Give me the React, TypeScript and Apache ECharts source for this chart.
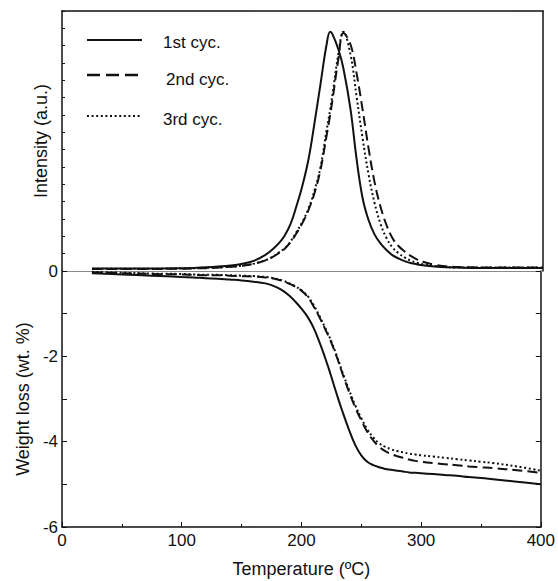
import React, { useEffect, useRef } from "react";
import * as echarts from "echarts";

const temps = [25, 50, 75, 100, 110, 120, 130, 140, 150, 160, 170, 175, 180, 185, 190, 195, 200, 205, 210, 215, 220, 223, 225, 230, 234, 240, 245, 250, 255, 260, 265, 270, 275, 280, 285, 290, 295, 300, 310, 320, 330, 340, 350, 360, 380, 400];

const intensity1 = [1.0, 1.0, 1.0, 1.1, 1.2, 1.4, 1.7, 2.1, 2.8, 4.0, 6.5, 8.3, 10.5, 13.5, 18, 25, 33, 43, 57, 72, 87, 92, 91, 85, 78, 62, 43, 28, 19.5, 14, 10.5, 8, 6, 4.8, 3.8, 3.1, 2.6, 2.2, 1.7, 1.4, 1.3, 1.2, 1.2, 1.2, 1.2, 1.2];
const intensity2 = [0.8, 0.8, 0.8, 0.9, 1.0, 1.1, 1.3, 1.6, 2.0, 2.8, 4.2, 5.3, 6.8, 8.5, 11, 14.5, 18.5, 23.5, 30, 39, 52, 60, 66, 82, 91.5, 87, 76, 62, 47, 34, 24.5, 17.5, 12.5, 9.5, 7.5, 5.8, 4.5, 3.6, 2.4, 1.8, 1.5, 1.4, 1.3, 1.3, 1.3, 1.3];
const intensity3 = [0.9, 0.9, 0.9, 1.0, 1.1, 1.2, 1.4, 1.7, 2.1, 2.9, 4.3, 5.4, 7.0, 8.7, 11.3, 15, 19, 24, 31, 40, 54, 62, 68, 84, 92, 83, 67, 51, 37, 26, 18, 12.5, 9, 6.8, 5.2, 4.0, 3.2, 2.6, 1.9, 1.5, 1.3, 1.3, 1.3, 1.3, 1.3, 1.3];

const weight1 = [-0.05, -0.08, -0.11, -0.14, -0.15, -0.17, -0.18, -0.2, -0.22, -0.25, -0.29, -0.33, -0.39, -0.47, -0.58, -0.72, -0.88, -1.07, -1.32, -1.66, -2.05, -2.3, -2.48, -2.93, -3.27, -3.74, -4.08, -4.32, -4.47, -4.55, -4.6, -4.64, -4.66, -4.68, -4.7, -4.72, -4.73, -4.74, -4.76, -4.78, -4.8, -4.83, -4.85, -4.88, -4.94, -5.0];
const weight2 = [-0.03, -0.05, -0.07, -0.08, -0.09, -0.1, -0.1, -0.11, -0.12, -0.13, -0.15, -0.17, -0.2, -0.24, -0.3, -0.37, -0.46, -0.6, -0.82, -1.08, -1.37, -1.55, -1.68, -2.05, -2.38, -2.85, -3.2, -3.5, -3.77, -3.97, -4.12, -4.22, -4.29, -4.34, -4.38, -4.42, -4.45, -4.47, -4.5, -4.53, -4.55, -4.58, -4.6, -4.62, -4.67, -4.73];
const weight3 = [-0.02, -0.04, -0.06, -0.07, -0.08, -0.09, -0.09, -0.1, -0.11, -0.12, -0.14, -0.16, -0.19, -0.23, -0.29, -0.36, -0.45, -0.58, -0.79, -1.05, -1.34, -1.52, -1.65, -2.02, -2.35, -2.8, -3.15, -3.45, -3.71, -3.9, -4.04, -4.12, -4.18, -4.22, -4.25, -4.28, -4.3, -4.32, -4.35, -4.38, -4.41, -4.44, -4.47, -4.5, -4.58, -4.68];

const cycleNames = ["1st cyc.", "2nd cyc.", "3rd cyc."];
const xTicks = [0, 100, 200, 300, 400];
const weightLabels = [0, -2, -4, -6];

const FONT = "'Liberation Sans', Arial, Helvetica, sans-serif";
const INK = "#111";

const dashes: any[] = ["solid", [10, 5], [2, 2.6]];

function pairs(vals: number[]) {
  return temps.map((t, i) => [t, vals[i]]);
}

export default function App() {
  const ref = useRef<HTMLDivElement>(null);
  useEffect(() => {
    if (!ref.current) return;
    const chart = echarts.init(ref.current, null, { renderer: "svg" });
    const intens = [intensity1, intensity2, intensity3];
    const weights = [weight1, weight2, weight3];
    const series: any[] = [];
    intens.forEach((v, i) => {
      series.push({
        name: cycleNames[i],
        type: "line",
        xAxisIndex: 0,
        yAxisIndex: 0,
        data: pairs(v),
        smooth: 0.4,
        showSymbol: false,
        symbol: "none",
        lineStyle: { color: INK, width: 2, type: dashes[i] },
      });
    });
    weights.forEach((v, i) => {
      series.push({
        name: cycleNames[i],
        type: "line",
        xAxisIndex: 2,
        yAxisIndex: 2,
        data: pairs(v),
        smooth: 0.4,
        showSymbol: false,
        symbol: "none",
        lineStyle: { color: INK, width: 2, type: dashes[i] },
      });
    });

    const legendY = [40, 75, 116];
    const legendTextY = [42, 79, 119];
    const graphic: any[] = [];
    cycleNames.forEach((n, i) => {
      graphic.push({
        type: "line",
        shape: { x1: 87, y1: legendY[i], x2: 142, y2: legendY[i] },
        style: {
          stroke: INK,
          lineWidth: i === 1 ? 2.6 : 2,
          lineDash: i === 0 ? null : i === 1 ? [13, 6] : [2, 2.6],
        },
      });
      graphic.push({
        type: "text",
        x: i === 1 ? 166 : 163,
        y: legendTextY[i],
        style: {
          text: n,
          font: `17px ${FONT}`,
          fill: INK,
          textVerticalAlign: "middle",
          verticalAlign: "middle",
        },
      });
    });

    chart.setOption({
      animation: false,
      backgroundColor: "#fff",
      textStyle: { fontFamily: FONT },
      grid: [
        { left: 62, top: 11, width: 481, height: 260 },
        { left: 62, top: 271, width: 481, height: 256 },
      ],
      xAxis: [
        {
          type: "value",
          gridIndex: 0,
          position: "bottom",
          min: 0,
          max: 400,
          axisLine: { show: true, onZero: false, lineStyle: { color: "#8a8a8a", width: 1 } },
          axisTick: { show: false },
          axisLabel: { show: false },
          splitLine: { show: false },
        },
        {
          type: "value",
          gridIndex: 0,
          position: "top",
          min: 0,
          max: 400,
          axisLine: { show: true, onZero: false, lineStyle: { color: INK, width: 1.5 } },
          axisTick: { show: false },
          axisLabel: { show: false },
          splitLine: { show: false },
        },
        {
          type: "value",
          gridIndex: 1,
          position: "bottom",
          min: 0,
          max: 400,
          interval: 100,
          name: "Temperature (ºC)",
          nameLocation: "middle",
          nameGap: 33,
          nameTextStyle: { fontSize: 18, color: INK, fontFamily: FONT },
          axisLine: { show: true, onZero: false, lineStyle: { color: INK, width: 1.5 } },
          axisTick: { show: true, inside: true, length: 5, lineStyle: { color: INK } },
          minorTick: { show: true, splitNumber: 2, length: 3, lineStyle: { color: INK } },
          axisLabel: {
            show: true,
            fontSize: 17,
            color: INK,
            margin: 5,
            fontFamily: FONT,
            formatter: (v: number) => (xTicks.includes(v) ? String(v) : ""),
          },
          splitLine: { show: false },
        },
      ],
      yAxis: [
        {
          type: "value",
          gridIndex: 0,
          position: "left",
          min: 0,
          max: 100,
          interval: 100 / 15,
          name: "Intensity (a.u.)",
          nameLocation: "middle",
          nameGap: 12,
          nameTextStyle: { fontSize: 18, color: INK, fontFamily: FONT },
          axisLine: { show: true, onZero: false, lineStyle: { color: INK, width: 1.5 } },
          axisTick: { show: true, inside: true, length: 3, lineStyle: { color: INK } },
          axisLabel: { show: false },
          splitLine: { show: false },
        },
        {
          type: "value",
          gridIndex: 0,
          position: "right",
          min: 0,
          max: 100,
          axisLine: { show: true, onZero: false, lineStyle: { color: INK, width: 1.5 } },
          axisTick: { show: false },
          axisLabel: { show: false },
          splitLine: { show: false },
        },
        {
          type: "value",
          gridIndex: 1,
          position: "left",
          min: -6,
          max: 0,
          interval: 1,
          name: "Weight loss (wt. %)",
          nameLocation: "middle",
          nameGap: 30,
          nameTextStyle: { fontSize: 18, color: INK, fontFamily: FONT },
          axisLine: { show: true, onZero: false, lineStyle: { color: INK, width: 1.5 } },
          axisTick: { show: true, inside: true, length: 5, lineStyle: { color: INK } },
          axisLabel: {
            show: true,
            fontSize: 17,
            color: INK,
            margin: 4,
            fontFamily: FONT,
            formatter: (v: number) => (weightLabels.includes(v) ? String(v) : ""),
          },
          splitLine: { show: false },
        },
        {
          type: "value",
          gridIndex: 1,
          position: "right",
          min: -6,
          max: 0,
          interval: 1,
          axisLine: { show: true, onZero: false, lineStyle: { color: INK, width: 1.5 } },
          axisTick: { show: true, inside: true, length: 5, lineStyle: { color: INK } },
          axisLabel: { show: false },
          splitLine: { show: false },
        },
      ],
      graphic,
      series,
    });
    return () => chart.dispose();
  }, []);
  return (
    <div
      ref={ref}
      style={{ position: "fixed", left: 0, top: 0, width: 558, height: 581, background: "#fff" }}
    />
  );
}
